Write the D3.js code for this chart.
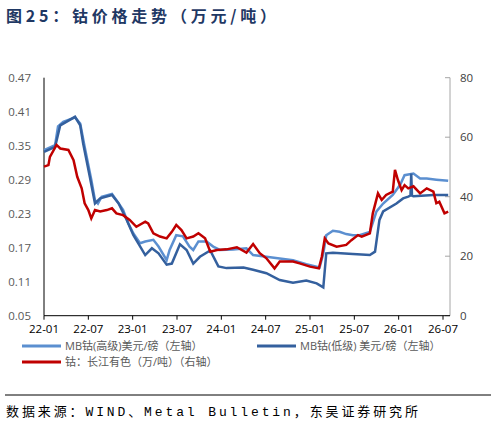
<!DOCTYPE html>
<html><head><meta charset="utf-8">
<script src="https://cdn.jsdelivr.net/npm/d3@7"></script>
<style>body{margin:0;background:#fff;font-family:"Open Sans","Noto Sans CJK SC",sans-serif}</style>
</head><body><svg id="c" width="496" height="425"></svg>
<script>
// months since 2022-01
const tickLabels=["22-01","22-07","23-01","23-07","24-01","24-07","25-01","25-07","26-01","26-07"];
const leftTicks=[0.05,0.11,0.17,0.23,0.29,0.35,0.41,0.47];
const rightTicks=[0,20,40,60,80];
const highM=[0,1.5,1.9,2.6,4.2,4.9,5.5,6.4,6.9,7.3,7.8,9.2,9.8,10.7,11.4,12.1,13.0,13.7,14.8,15.5,16.6,17.0,17.9,18.8,19.7,20.2,20.9,22.0,22.9,23.8,25.6,27.4,28.3,30.1,31.9,33.7,35.5,37.3,37.8,38.2,39.1,40.0,40.9,41.8,42.7,44.1,45.0,45.9,47.2,48.2,48.8,50.0,50.9,51.8,53.1,54.7];
const highV=[0.342,0.351,0.384,0.392,0.400,0.389,0.348,0.290,0.254,0.248,0.260,0.265,0.254,0.237,0.213,0.195,0.178,0.181,0.184,0.172,0.148,0.166,0.192,0.190,0.172,0.166,0.181,0.181,0.172,0.166,0.167,0.169,0.157,0.154,0.151,0.148,0.141,0.135,0.160,0.192,0.200,0.198,0.194,0.192,0.192,0.198,0.234,0.248,0.263,0.281,0.298,0.301,0.292,0.292,0.290,0.288];
const lowM=[0,1.5,2.2,4.2,4.9,5.3,6.2,6.9,7.6,9.2,10.1,11.2,12.1,13.7,14.6,15.5,16.6,17.3,18.4,19.3,20.2,21.1,22.5,23.6,24.7,27.0,28.3,30.1,31.9,33.7,35.5,36.9,37.8,38.2,39.1,41.8,44.1,44.8,45.4,45.9,47.7,48.6,49.3,49.6,49.7,49.8,50.0,52.7,54.7];
const lowV=[0.339,0.348,0.386,0.401,0.386,0.354,0.295,0.248,0.257,0.263,0.248,0.219,0.192,0.157,0.169,0.160,0.140,0.142,0.176,0.166,0.142,0.154,0.165,0.137,0.134,0.135,0.131,0.125,0.113,0.108,0.112,0.107,0.100,0.160,0.161,0.159,0.157,0.163,0.219,0.234,0.248,0.257,0.260,0.262,0.301,0.262,0.261,0.263,0.263];
const redM=[0,0.6,0.8,1.7,2.2,3.3,4.0,4.5,5.1,5.5,6.0,6.4,6.9,7.6,8.5,9.2,9.8,10.7,11.6,12.5,13.7,14.1,14.8,15.7,16.6,17.3,17.9,18.6,19.3,20.2,20.9,21.8,22.5,23.4,24.7,26.1,27.4,28.3,29.2,30.1,31.2,31.9,32.8,33.7,34.6,36.0,37.2,37.6,38.0,38.5,39.6,40.9,41.6,42.5,43.0,44.1,44.5,45.2,45.7,46.3,47.2,47.5,47.9,48.4,48.8,49.3,50.0,50.9,51.8,52.7,53.1,53.5,54.2,54.7];
const redV=[50.1,50.6,53.4,57.4,56.2,55.7,52.3,46.7,42.8,37.8,35.5,32.7,35.5,35.0,35.5,36.1,34.4,33.8,32.2,29.9,31.6,31.0,27.7,26.6,26.0,28.2,30.5,28.8,26.0,26.6,27.7,26.0,21.5,22.1,22.3,23.0,21.2,24.1,21.0,19.3,15.9,18.2,18.2,18.2,17.6,16.5,15.9,19.8,26.0,24.3,23.2,23.8,25.4,27.1,26.6,27.7,34.4,41.1,38.9,40.6,41.7,49.0,45.6,42.2,43.9,42.8,43.5,41.1,42.8,41.7,37.8,38.3,34.4,35.0];

const svg=d3.select("#c");
const L=44,R=450,T=77.7,B=315.7;
const x=d3.scaleLinear().domain([0,54]).range([L,443]);
const yl=d3.scaleLinear().domain([0.05,0.47]).range([B,T]);
const yr=d3.scaleLinear().domain([0,80]).range([B,T]);

svg.append("text").attr("x",6).attr("y",22).attr("fill","#1f3864").attr("font-size",16).attr("font-weight","bold")
 .attr("textLength",270).attr("lengthAdjust","spacing")
 .attr("font-family","'Noto Sans CJK SC',sans-serif").text("图25：钴价格走势（万元/吨）");

const ga=svg.append("g").attr("transform",`translate(${L},0)`);
ga.append("line").attr("y1",T).attr("y2",B).attr("stroke","#000");
leftTicks.forEach(t=>ga.append("text").attr("x",-13).attr("y",yl(t)+4).attr("text-anchor","end").attr("font-size",11.5).attr("fill","#595959").text(t.toFixed(2)));
const gr=svg.append("g").attr("transform",`translate(${R},0)`);
gr.append("line").attr("y1",T).attr("y2",B).attr("stroke","#a6a6a6");
rightTicks.forEach(t=>{gr.append("line").attr("x2",-5).attr("y1",yr(t)).attr("y2",yr(t)).attr("stroke","#a6a6a6");
 gr.append("text").attr("x",10).attr("y",yr(t)+4).attr("font-size",11.5).attr("fill","#404040").text(t);});
const gb=svg.append("g");
gb.append("line").attr("x1",L).attr("x2",R).attr("y1",B).attr("y2",B).attr("stroke","#000");
tickLabels.forEach((t,i)=>{const xx=x(i*6);
 gb.append("line").attr("x1",xx).attr("x2",xx).attr("y1",B).attr("y2",B+4).attr("stroke","#000");
 gb.append("text").attr("x",xx).attr("y",B+17).attr("text-anchor","middle").attr("font-size",11.5).attr("fill","#000").text(t);});

const line=(ys)=>d3.line().x(d=>x(d[0])).y(d=>ys(d[1])).curve(d3.curveLinear);
const zip=(a,b)=>a.map((v,i)=>[v,b[i]]);
svg.append("path").attr("d",line(yl)(zip(highM,highV))).attr("fill","none").attr("stroke","#5b8fd0").attr("stroke-width",2.5);
svg.append("path").attr("d",line(yl)(zip(lowM,lowV))).attr("fill","none").attr("stroke","#34609e").attr("stroke-width",2.5);
svg.append("path").attr("d",line(yr)(zip(redM,redV))).attr("fill","none").attr("stroke","#c00000").attr("stroke-width",2.5);

const leg=[["MB钴(高级)美元/磅（左轴）","#5b8fd0",22,346],["MB钴(低级) 美元/磅（左轴）","#34609e",257,346],["钴：长江有色（万/吨）（右轴）","#c00000",22,362]];
leg.forEach(([t,c,lx,ly])=>{svg.append("line").attr("x1",lx).attr("x2",lx+39).attr("y1",ly).attr("y2",ly).attr("stroke",c).attr("stroke-width",3);
 svg.append("text").attr("x",lx+43).attr("y",ly+4).attr("font-size",11).attr("fill","#595959").text(t);});

svg.append("line").attr("x1",5).attr("x2",491).attr("y1",395).attr("y2",395).attr("stroke","#000").attr("stroke-width",1);
svg.append("text").attr("x",6).attr("y",416).attr("font-size",13).attr("fill","#000")
 .attr("textLength",412).attr("lengthAdjust","spacing")
 .attr("font-family","'Liberation Mono','Noto Sans CJK SC',monospace").text("数据来源：WIND、Metal Bulletin，东吴证券研究所");
</script></body></html>
